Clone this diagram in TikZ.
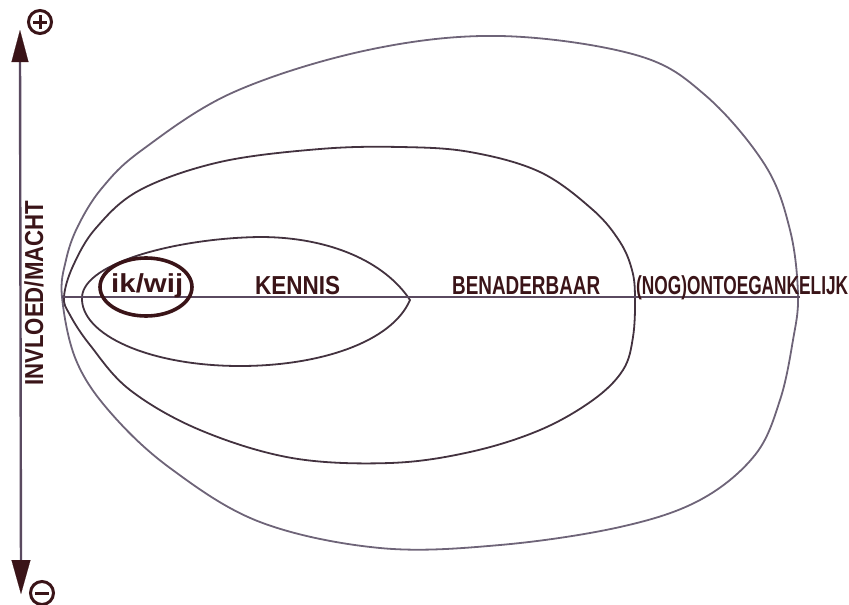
\documentclass[tikz,border=0pt]{standalone}
\usepackage{fontspec}
\setmainfont{Liberation Sans}
\usetikzlibrary{arrows.meta}
\definecolor{ink}{HTML}{3A1418}
\definecolor{pen}{HTML}{43323F}
\definecolor{penmid}{HTML}{5A4A60}
\definecolor{penlight}{HTML}{6E6478}
\newcommand{\hw}[2]{\resizebox{#1}{\height}{#2}}
\begin{document}
\begin{tikzpicture}[x=1pt,y=-1pt,
  curve/.style={line width=1.8pt, line join=round},
  lbl/.style={inner sep=0pt, anchor=base west, text=ink, font=\fontsize{26}{26}\selectfont\bfseries},
  sign/.style={circle, draw=ink, line width=3pt, minimum size=23pt, inner sep=0pt},
  bar/.style={ink, line width=3pt}]
\useasboundingbox (0,0) rectangle (849,605);

% vertical axis
\coordinate (ytop) at (20,30);
\coordinate (ybot) at (21,594);
\draw[penmid, line width=2.4pt] ([yshift=-20]ytop) -- ([yshift=20]ybot);
\draw[ink, line width=0.1pt, -{Triangle[width=17pt,length=32pt]}] ([yshift=-31]ytop) -- (ytop);
\draw[ink, line width=0.1pt, -{Triangle[width=19pt,length=34pt]}] ([yshift=33]ybot) -- (ybot);
\node[sign] (plus) at (40,22) {};
\draw[bar] ([xshift=-7]plus.center) -- ([xshift=7]plus.center);
\draw[bar] ([yshift=-7]plus.center) -- ([yshift=7]plus.center);
\node[sign] (minus) at (42,593) {};
\draw[bar] ([xshift=-7]minus.center) -- ([xshift=7]minus.center);

% outer curve
\draw[curve, penlight] plot[smooth cycle, tension=0.6] coordinates {
 (62,297) (66,260) (78,226) (102,188) (142,150) (234,92) (368,50) (500,36)
 (636,55) (705,95) (765,165) (790,230) (798,295) (793,340) (780,400)
 (755,455) (700,500) (620,527) (500,545) (380,548) (260,522) (170,468)
 (110,412) (76,360)};

% middle curve
\draw[curve, pen] plot[smooth cycle, tension=0.6] coordinates {
 (64,297) (73,266) (96,228) (140,190) (220,162) (320,149) (400,147) (470,152)
 (540,172) (593,210) (620,242) (632,270) (635,297) (633,337) (623,370)
 (593,400) (540,430) (470,452) (390,463) (292,458) (200,430) (130,390)
 (90,345) (70,315)};

% inner curve (kennis)
\draw[curve, pen] (82,297) .. controls (84,262) and (180,238) .. (260,237)
  .. controls (330,237) and (385,262) .. (410,300)
  .. controls (392,342) and (320,366) .. (240,366)
  .. controls (150,366) and (80,335) .. (82,297) -- cycle;

% horizontal axis
\coordinate (xl) at (62,297);
\coordinate (xr) at (800,297);
\draw[penmid, line width=2pt] (xl) -- (xr);

% ik/wij ellipse
\draw[ink, line width=3.6pt] (146,287) ellipse [x radius=46, y radius=29];

% labels
\node[lbl] (ik) at (111,292) {\hw{72pt}{ik/wij}};
\node[lbl] (kennis) at (255,294) {\hw{85pt}{KENNIS}};
\node[lbl] (ben) at (452,294) {\hw{148pt}{BENADERBAAR}};
\node[lbl] (ont) at (636,294) {\hw{212pt}{(NOG)ONTOEGANKELIJK}};
\node[lbl, rotate=90] (invloed) at (43,386) {\hw{185pt}{INVLOED/MACHT}};
\end{tikzpicture}
\end{document}
